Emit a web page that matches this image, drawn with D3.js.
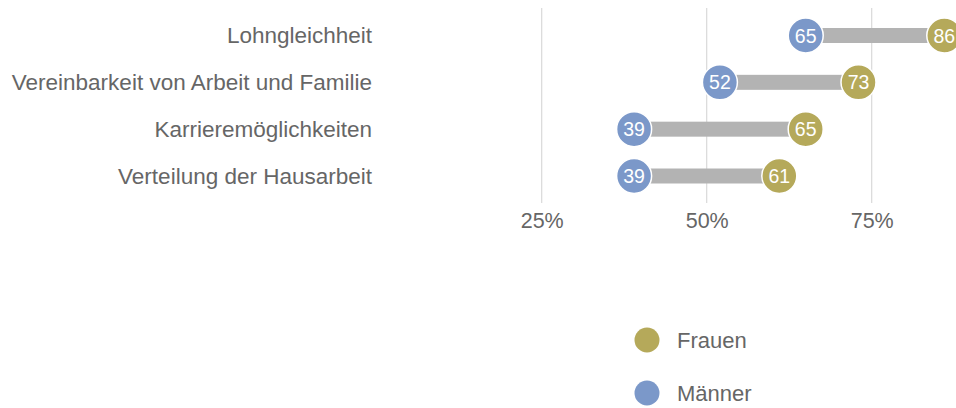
<!DOCTYPE html>
<html>
<head>
  <meta charset="utf-8">
  <title>Gleichstellung</title>
  <script src="https://cdnjs.cloudflare.com/ajax/libs/d3/7.8.5/d3.min.js"></script>
  <style>
    html, body { margin: 0; padding: 0; background: #fff; }
    svg { display: block; font-family: "Liberation Sans", Arial, sans-serif; }
    .lbl { fill: #666; font-size: 22.5px; }
    .leg { fill: #666; font-size: 22px; }
    .tick text { fill: #666; font-size: 21.5px; }
  </style>
</head>
<body>
  <svg id="chart" width="956" height="408"></svg>
  <script>
    let categories = ['Lohngleichheit', 'Vereinbarkeit von Arbeit und Familie', 'Karrieremöglichkeiten', 'Verteilung der Hausarbeit']
    let frauen = [86, 73, 65, 61]
    let maenner = [65, 52, 39, 39]
    let tickValues = [25, 50, 75]
    let seriesNames = ['Frauen', 'Männer']

    let colorFrauen = '#b5a95a'
    let colorMaenner = '#7b98c9'
    let colorBar = '#b3b3b3'
    let radius = 17.5

    let svg = d3.select('#chart')

    let x = d3.scaleLinear().domain([0, 100]).range([376.7, 1036.7])
    let y = d3.scalePoint().domain(categories).range([35.5, 176])

    // gridlines
    svg.append('g')
      .selectAll('line')
      .data(tickValues)
      .join('line')
      .attr('x1', d => x(d)).attr('x2', d => x(d))
      .attr('y1', 8).attr('y2', 203)
      .attr('stroke', '#d9d9d9')
      .attr('stroke-width', 1.2)

    // tick labels
    let axis = svg.append('g')
      .attr('transform', 'translate(0,204)')
      .call(d3.axisBottom(x).tickValues(tickValues).tickFormat(d => d + '%').tickSize(0).tickPadding(9))
    axis.select('.domain').remove()
    axis.selectAll('text').attr('font-family', null).attr('font-size', null)

    // category labels
    svg.append('g')
      .selectAll('text')
      .data(categories)
      .join('text')
      .attr('class', 'lbl')
      .attr('x', 372)
      .attr('y', d => y(d))
      .attr('dy', '0.35em')
      .attr('text-anchor', 'end')
      .text(d => d)

    let rows = categories.map((c, i) => ({ c, f: frauen[i], m: maenner[i] }))

    // connecting bars
    svg.append('g')
      .selectAll('rect')
      .data(rows)
      .join('rect')
      .attr('x', d => x(d.m))
      .attr('y', d => y(d.c) - 7.5)
      .attr('width', d => x(d.f) - x(d.m))
      .attr('height', 15)
      .attr('fill', colorBar)

    const dots = (key, color) => {
      let g = svg.append('g')
      g.selectAll('circle')
        .data(rows)
        .join('circle')
        .attr('cx', d => x(d[key]))
        .attr('cy', d => y(d.c))
        .attr('r', radius)
        .attr('fill', color)
        .attr('stroke', '#fff')
        .attr('stroke-width', 1.5)
      g.selectAll('text')
        .data(rows)
        .join('text')
        .attr('x', d => x(d[key]))
        .attr('y', d => y(d.c))
        .attr('dy', '0.36em')
        .attr('text-anchor', 'middle')
        .attr('fill', '#fff')
        .attr('font-size', 19.5)
        .text(d => d[key])
    }
    dots('m', colorMaenner)
    dots('f', colorFrauen)

    // legend
    let legend = svg.append('g')
      .selectAll('g')
      .data(seriesNames)
      .join('g')
      .attr('transform', (d, i) => `translate(647,${340 + i * 53})`)
    legend.append('circle')
      .attr('r', 12.5)
      .attr('fill', (d, i) => i === 0 ? colorFrauen : colorMaenner)
    legend.append('text')
      .attr('class', 'leg')
      .attr('x', 30)
      .attr('dy', '0.35em')
      .text(d => d)
  </script>
</body>
</html>
